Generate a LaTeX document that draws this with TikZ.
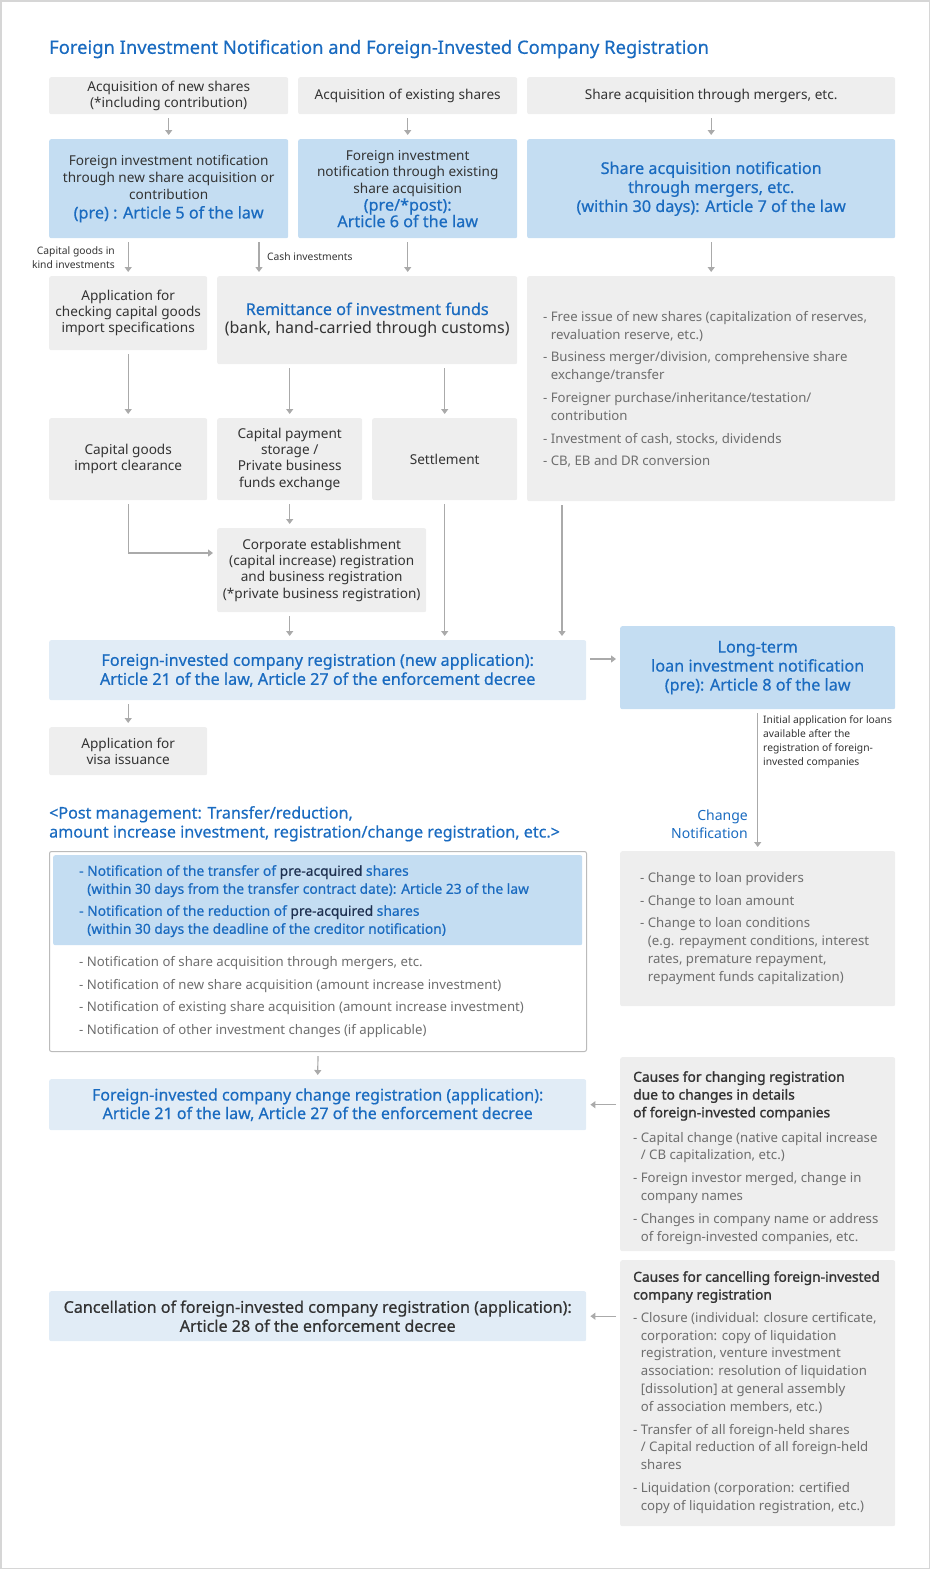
\documentclass[tikz,border=0pt]{standalone}
\usepackage{fontspec}
\setmainfont{Noto Sans}
\newfontfamily\medish[FakeBold=0.5]{Noto Sans}
\newfontfamily\boldish[FakeBold=1.3]{Noto Sans}
\usetikzlibrary{arrows.meta}
\definecolor{tblue}{HTML}{1A6BC0}
\definecolor{tdark}{HTML}{333333}
\definecolor{tgray}{HTML}{6E6E6E}
\definecolor{tnavy}{HTML}{1E3050}
\definecolor{boxgray}{HTML}{EEEEEE}
\definecolor{boxblue}{HTML}{C4DDF2}
\definecolor{boxlight}{HTML}{E1ECF6}
\definecolor{arrgray}{HTML}{AAAAAA}
\definecolor{framegray}{HTML}{BBBBBB}
\definecolor{outergray}{HTML}{D6D6D6}
\newcommand{\blu}[1]{{\color{tblue}\medish\fontsize{16.2}{19}\selectfont #1}}
\newcommand{\hg}{\hphantom{- }}
\newcommand{\hd}[1]{\textcolor{tdark}{\boldish\fontsize{13.8}{17.7}\selectfont #1}}
\begin{document}
\begin{tikzpicture}[x=1pt,y=-1pt,
  base/.style={anchor=north west, inner sep=0pt, rounded corners=2pt, align=center, text=tdark, font=\fontsize{13.6}{16.2}\selectfont},
  gbox/.style={base, fill=boxgray},
  bbox/.style={base, fill=boxblue},
  lbox/.style={base, fill=boxlight},
  list/.style={anchor=north west, inner sep=0pt, align=left, text=tgray, font=\fontsize{13.2}{17.8}\selectfont},
  small/.style={inner sep=0pt, text=tdark, font=\fontsize{10.3}{14}\selectfont},
  arr/.style={draw=arrgray, line width=1.2pt, -{Triangle[length=5pt,width=7pt]}, shorten <=4pt, shorten >=4pt},
]
\useasboundingbox (0,0) rectangle (930,1569);
\draw[outergray, line width=1.5pt] (0.75,0.75) rectangle (929.25,1568.25);

\node[anchor=west, inner sep=0pt, text=tblue, font=\medish\fontsize{18.4}{22}\selectfont] (title) at (49,49) {Foreign Investment Notification and Foreign-Invested Company Registration};

% row 1
\node[gbox, minimum width=239pt, minimum height=37pt] (A1) at (49,77) {Acquisition of new shares\\(*including contribution)};
\node[gbox, minimum width=219pt, minimum height=37pt] (A2) at (298,77) {Acquisition of existing shares};
\node[gbox, minimum width=368pt, minimum height=37pt] (A3) at (527,77) {Share acquisition through mergers, etc.};

% row 2
\node[bbox, minimum width=239pt, minimum height=99pt, font=\fontsize{13.6}{17}\selectfont] (B1) at (49,139) {Foreign investment notification\\through new share acquisition or\\contribution\\[2pt]\blu{(pre) : Article 5 of the law}};
\node[bbox, minimum width=219pt, minimum height=99pt, font=\fontsize{13.6}{16.5}\selectfont] (B2) at (298,139) {Foreign investment\\notification through existing\\share acquisition\\[1pt]\blu{(pre/*post):}\\\blu{Article 6 of the law}};
\node[bbox, minimum width=368pt, minimum height=99pt, text=tblue, font=\medish\fontsize{16.2}{19}\selectfont] (B3) at (527,139) {Share acquisition notification\\through mergers, etc.\\(within 30 days): Article 7 of the law};

% row 3
\node[gbox, minimum width=158pt, minimum height=74pt] (C1) at (49,276) {Application for\\checking capital goods\\import specifications};
\node[gbox, minimum width=300pt, minimum height=88pt, font=\fontsize{16}{19}\selectfont] (C2) at (217,276) {\blu{Remittance of investment funds}\\(bank, hand-carried through customs)};
\node[gbox, minimum width=368pt, minimum height=225pt] (C3) at (527,276) {};
\node[list] (C3t) at (543,311) {- Free issue of new shares (capitalization of reserves,\\\hg revaluation reserve, etc.)\\[5pt]- Business merger/division, comprehensive share\\\hg exchange/transfer\\[5pt]- Foreigner purchase/inheritance/testation/\\\hg contribution\\[5pt]- Investment of cash, stocks, dividends\\[5pt]- CB, EB and DR conversion};

% row 4
\node[gbox, minimum width=158pt, minimum height=82pt] (D1) at (49,418) {Capital goods\\import clearance};
\node[gbox, minimum width=145pt, minimum height=82pt] (D2) at (217,418) {Capital payment\\storage /\\Private business\\funds exchange};
\node[gbox, minimum width=145pt, minimum height=82pt] (D3) at (372,418) {Settlement};

\node[gbox, minimum width=209pt, minimum height=84pt] (E) at (217,528) {Corporate establishment\\(capital increase) registration\\and business registration\\(*private business registration)};

\node[lbox, minimum width=537pt, minimum height=60pt, text=tblue, font=\medish\fontsize{16.2}{19}\selectfont] (F) at (49,640) {Foreign-invested company registration (new application):\\Article 21 of the law, Article 27 of the enforcement decree};
\node[bbox, minimum width=275pt, minimum height=83pt, text=tblue, font=\medish\fontsize{16.2}{19}\selectfont] (G) at (620,626) {Long-term\\loan investment notification\\(pre): Article 8 of the law};
\node[gbox, minimum width=158pt, minimum height=48pt] (H) at (49,727) {Application for\\visa issuance};

% labels
\node[small, anchor=north east, align=right] (lblkind) at (115,246) {Capital goods in\\kind investments};
\node[small, anchor=west] (lblcash) at (267,257) {Cash investments};
\node[small, anchor=north west, align=left] (lblinit) at (763,715) {Initial application for loans\\available after the\\registration of foreign-\\invested companies};
\node[anchor=north east, inner sep=0pt, align=right, text=tblue, font=\fontsize{14}{18}\selectfont] (lblchg) at (748,810) {Change\\Notification};

\node[anchor=north west, inner sep=0pt, align=left, text=tblue, font=\medish\fontsize{16.1}{19}\selectfont] (post) at (49,806) {<Post management: Transfer/reduction,\\amount increase investment, registration/change registration, etc.>};

% post management boxes
\node[base, draw=framegray, line width=1pt, fill=white, minimum width=537pt, minimum height=200pt] (J) at (49,851) {};
\node[bbox, minimum width=529pt, minimum height=90pt] (Jb) at (53,855) {};
\node[list, text=tblue, font=\medish\fontsize{13.8}{18}\selectfont] (Jbt) at (79,865) {- Notification of the transfer of \textcolor{tnavy}{pre-acquired} shares\\\hg(within 30 days from the transfer contract date): Article 23 of the law\\[4pt]- Notification of the reduction of \textcolor{tnavy}{pre-acquired} shares\\\hg(within 30 days the deadline of the creditor notification)};
\node[list] (Jgt) at (79,956) {- Notification of share acquisition through mergers, etc.\\[5pt]- Notification of new share acquisition (amount increase investment)\\[5pt]- Notification of existing share acquisition (amount increase investment)\\[5pt]- Notification of other investment changes (if applicable)};

\node[gbox, minimum width=275pt, minimum height=155pt] (I) at (620,851) {};
\node[list] (It) at (640,872) {- Change to loan providers\\[5pt]- Change to loan amount\\[5pt]- Change to loan conditions\\\hg(e.g. repayment conditions, interest\\\hg rates, premature repayment,\\\hg repayment funds capitalization)};

\node[lbox, minimum width=537pt, minimum height=51pt, text=tblue, font=\medish\fontsize{16}{18.5}\selectfont] (K) at (49,1079) {Foreign-invested company change registration (application):\\Article 21 of the law, Article 27 of the enforcement decree};
\node[gbox, minimum width=275pt, minimum height=194pt] (L) at (620,1057) {};
\node[list] (Lt) at (633,1071) {\hd{Causes for changing registration}\\\hd{due to changes in details}\\\hd{of foreign-invested companies}\\[7pt]- Capital change (native capital increase\\\hg/ CB capitalization, etc.)\\[5pt]- Foreign investor merged, change in\\\hg company names\\[5pt]- Changes in company name or address\\\hg of foreign-invested companies, etc.};

\node[lbox, minimum width=537pt, minimum height=50pt, font=\medish\fontsize{16.1}{19}\selectfont] (M) at (49,1291) {Cancellation of foreign-invested company registration (application):\\Article 28 of the enforcement decree};
\node[gbox, minimum width=275pt, minimum height=266pt] (N) at (620,1260) {};
\node[list] (Nt) at (633,1271) {\hd{Causes for cancelling foreign-invested}\\\hd{company registration}\\[5pt]- Closure (individual: closure certificate,\\\hg corporation: copy of liquidation\\\hg registration, venture investment\\\hg association: resolution of liquidation\\\hg [dissolution] at general assembly\\\hg of association members, etc.)\\[5pt]- Transfer of all foreign-held shares\\\hg/ Capital reduction of all foreign-held\\\hg shares\\[5pt]- Liquidation (corporation: certified\\\hg copy of liquidation registration, etc.)};

% helper coordinates
\coordinate (c259) at (259,0);
\coordinate (c562) at (562,0);
\coordinate (k553) at (0,553);
\coordinate (k659) at (0,659);

% connectors
\draw[arr] (A1.south) -- (B1.north);
\draw[arr] (A2.south) -- (B2.north);
\draw[arr] (A3.south) -- (B3.north);
\draw[arr] (B1.south -| C1.north) -- (C1.north);
\draw[arr] (B1.south -| c259) -- (C2.north -| c259);
\draw[arr] (B2.south) -- (C2.north -| B2.south);
\draw[arr] (B3.south) -- (C3.north);
\draw[arr] (C1.south) -- (D1.north);
\draw[arr] (C2.south -| D2.north) -- (D2.north);
\draw[arr] (C2.south -| D3.north) -- (D3.north);
\draw[arr] (D1.south) |- (E.west |- k553);
\draw[arr] (D2.south) -- (E.north -| D2.south);
\draw[arr] (D3.south) -- (F.north -| D3.south);
\draw[arr] (C3.south -| c562) -- (F.north -| c562);
\draw[arr] (E.south -| D2.south) -- (F.north -| D2.south);
\draw[arr] (F.east |- k659) -- (G.west |- k659);
\draw[arr] (F.south -| H.north) -- (H.north);
\draw[arr] (G.south) -- (I.north);
\draw[arr] (J.south) -- (K.north);
\draw[arr] (L.west |- K.east) -- (K.east);
\draw[arr] (N.west |- M.east) -- (M.east);
\end{tikzpicture}
\end{document}
